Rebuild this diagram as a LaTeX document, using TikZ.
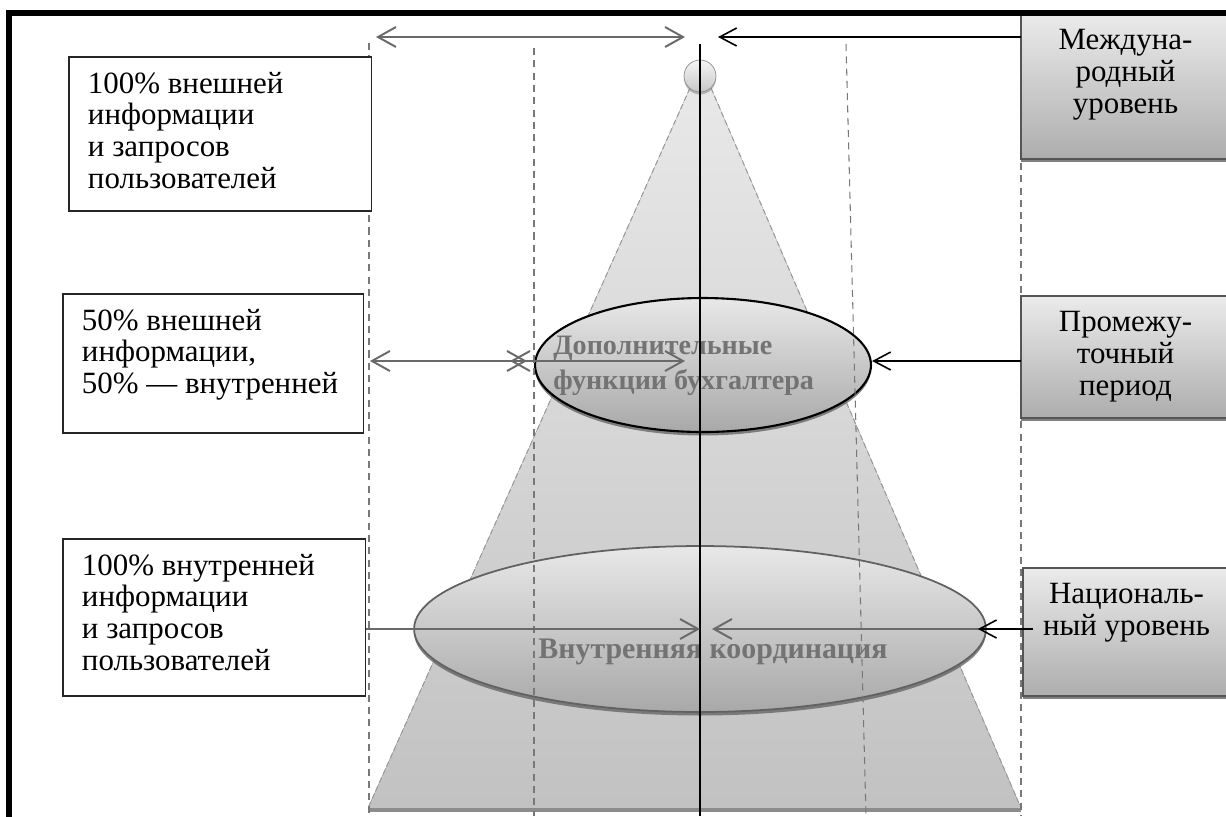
\documentclass[tikz,border=0pt]{standalone}
\usepackage{fontspec}
\setmainfont{Liberation Serif}
\usetikzlibrary{positioning,arrows.meta,calc,shapes.geometric,shadows}
\definecolor{guideline}{RGB}{120,120,120}
\definecolor{arrowgrey}{RGB}{105,105,105}
\definecolor{ovaltext}{RGB}{115,115,115}
\definecolor{boxline}{RGB}{85,85,85}
\newcommand{\bodyfont}{\fontsize{17.6}{18.1}\selectfont}
\newcommand{\ovalfont}{\fontsize{17}{19.8}\selectfont\bfseries}
\newcommand{\boxtxt}[3]{\parbox[c][#1][t]{#2}{#3}}
\tikzset{
  lbox/.style={draw=black!85, fill=white, line width=0.6pt, anchor=north west,
               inner xsep=0.38cm, inner ysep=0.3cm, outer sep=0pt, font=\bodyfont},
  rbox/.style={draw=boxline, top color=black!8, bottom color=black!32, line width=0.6pt,
               anchor=north west, inner xsep=0pt, inner ysep=0.31cm, outer sep=0pt, font=\bodyfont,
               drop shadow={shadow xshift=0pt, shadow yshift=-0.07cm, fill=black!55, opacity=0.9}},
  oval/.style={ellipse, inner sep=0pt, top color=black!9, bottom color=black!34,
               drop shadow={shadow xshift=0pt, shadow yshift=-0.07cm, fill=black!60, opacity=0.8}},
  ovtext/.style={font=\ovalfont, text=ovaltext, align=left, inner sep=0pt},
  guide/.style={draw=guideline, line width=0.6pt, dash pattern=on 4pt off 3pt},
  coneedge/.style={draw=black!40, line width=0.6pt, dash pattern=on 3pt off 2pt},
  axis/.style={draw=black, line width=0.8pt},
  garr/.style={draw=arrowgrey, line width=1.1pt, -{Straight Barb[length=0.36cm, width=0.4cm]}},
  gboth/.style={draw=arrowgrey, line width=1.1pt,
                {Straight Barb[length=0.36cm, width=0.4cm]}-{Straight Barb[length=0.36cm, width=0.4cm]}},
  barr/.style={draw=black, line width=0.9pt, -{Straight Barb[length=0.34cm, width=0.36cm]}},
}
\begin{document}
\begin{tikzpicture}[x=0.02cm, y=-0.02cm]
  \clip (0,0) rectangle (1226,816);

  %% cone and top ball
  \fill[top color=black!9, bottom color=black!24] (690,88) -- (711,88) -- (1021,808) -- (368,808) -- cycle;
  \draw[coneedge] (690,88) -- (368,808);
  \draw[coneedge] (711,88) -- (1021,808);
  \fill[black!45] (368,808) rectangle (1021,812);
  \node[circle, draw=black!45, top color=black!4, bottom color=black!22, minimum size=0.64cm,
        inner sep=0pt, drop shadow={shadow xshift=0pt, shadow yshift=-0.05cm, fill=black!50}] (apex) at (700,76) {};

  %% ovals
  \node[oval, draw=black, line width=1.2pt, minimum width=6.72cm, minimum height=2.68cm] (dop) at (703,365) {};
  \node[ovtext, anchor=west, font=\fontsize{16}{19.8}\selectfont\bfseries] (doptxt) at (553,366) {Дополнительные\\функции бухгалтера};
  \node[oval, draw=black!62, line width=1pt, minimum width=11.44cm, minimum height=3.32cm] (vk) at (700,629) {};
  \node[ovtext, anchor=base] (vktxt) at (713,658) {Внутренняя координация};

  %% guide lines
  \draw[guide] (369,43) -- (369,816);
  \draw[guide] (534,48) -- (534,816);
  \draw[guide] (846,44) -- (866,816);
  \draw[guide] (1021,40) -- (1021,816);
  \draw[axis] (700,44) -- (700,816);

  %% left boxes
  \node[lbox] (extA) at (69,57) {\boxtxt{2.48cm}{5.30cm}{\raggedright 100\% внешней\\информации\\и запросов\\пользователей}};
  \node[lbox] (extB) at (63,294) {\boxtxt{2.18cm}{5.26cm}{\raggedright 50\% внешней\\информации,\\50\% — внутренней}};
  \node[lbox] (extC) at (63,539) {\boxtxt{2.54cm}{5.30cm}{\raggedright 100\% внутренней\\информации\\и запросов\\пользователей}};

  %% right boxes
  \node[rbox] (intl) at (1021,14) {\boxtxt{2.28cm}{4.18cm}{\centering Междуна-\\родный\\уровень}};
  \node[rbox] (mid) at (1021,296) {\boxtxt{1.82cm}{4.18cm}{\centering Промежу-\\точный\\период}};
  \node[rbox] (nat) at (1023,568) {\boxtxt{1.94cm}{4.14cm}{\centering Националь-\\ный уровень}};

  %% arrows
  \coordinate (tl) at (376,37);
  \coordinate (tr) at (685,37);
  \coordinate (tk) at (718,37);
  \coordinate (my) at (0,361);
  \coordinate (ml) at (510,361);
  \coordinate (mr) at (685,361);
  \draw[gboth] (tl) -- (tr);
  \draw[barr] (intl.west |- tk) -- (tk);
  \draw[gboth, shorten <=0.12cm, shorten >=0.14cm] (extB.east |- my) -- (dop.west |- my);
  \draw[gboth] (ml) -- (mr);
  \draw[barr] (mid.west |- my) -- (dop.east |- my);
  \draw[garr] (extC.east |- vk.west) -- (vk.center);
  \draw[garr] (vk.east) -- ($(vk.center)+(12,0)$);
  \draw[barr, shorten >=-0.18cm] ($(nat.west |- vk.east)+(10,0)$) -- (vk.east);

  %% frame
  \draw[line width=0.12cm] (9,830) -- (9,13) -- (1240,13);
\end{tikzpicture}
\end{document}
